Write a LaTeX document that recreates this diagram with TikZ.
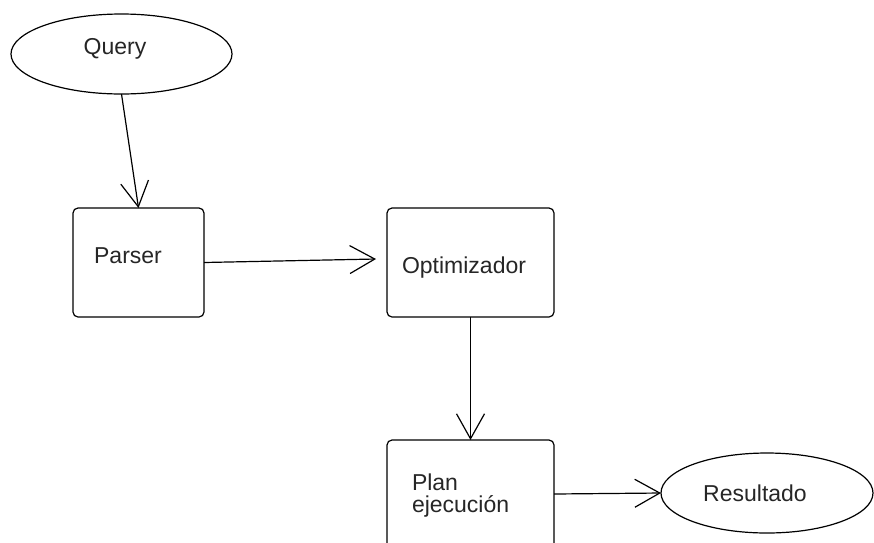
\documentclass[tikz,border=0pt]{standalone}
\usepackage{fontspec}
\setmainfont{Liberation Sans}
\usetikzlibrary{arrows.meta,shapes.geometric}
\begin{document}
\begin{tikzpicture}[x=1pt,y=-1pt,
  every node/.style={inner sep=0pt,outer sep=0pt},
  stage/.style={draw,line width=1.2pt,rounded corners=5pt,rectangle},
  term/.style={draw,line width=1.2pt,ellipse},
  lbl/.style={font=\fontsize{23}{27}\selectfont,text=black!85},
  flow/.style={line width=1.2pt,-{Straight Barb[length=25pt,width=28pt,line width=1.2pt]}}]
  % page area
  \clip (0,0) rectangle (874,542);
  \fill[white] (0,0) rectangle (874,542);

  % shapes
  \node[term,minimum width=221pt,minimum height=80pt] (query) at (121.5,54) {};
  \node[stage,minimum width=131pt,minimum height=109pt] (parser) at (138.5,262.5) {};
  \node[stage,minimum width=167pt,minimum height=109pt] (opt) at (470.5,262.5) {};
  \node[stage,minimum width=167pt,minimum height=130pt] (plan) at (470.5,505) {};
  \node[term,minimum width=212pt,minimum height=80pt] (res) at (767,493) {};

  % texts
  \node[lbl] (tquery) at (115,49) {Query};
  \node[lbl] (tparser) at (128,256) {Parser};
  \node[lbl] (topt) at (464,268) {Optimizador};
  \node[lbl,align=left,anchor=west] (tplan) at (412,496) {Plan\\[-5pt]ejecución};
  \node[lbl] (tres) at (755,493) {Resultado};

  % connectors
  \draw[flow] (query.south) -- (parser.north);
  \draw[flow] (parser.east) -- ([xshift=-11pt,yshift=3.5pt]opt.west);
  \draw[flow] (opt.south) -- (plan.north);
  \draw[flow] ([yshift=11pt]plan.east) -- (res.west);
\end{tikzpicture}
\end{document}
